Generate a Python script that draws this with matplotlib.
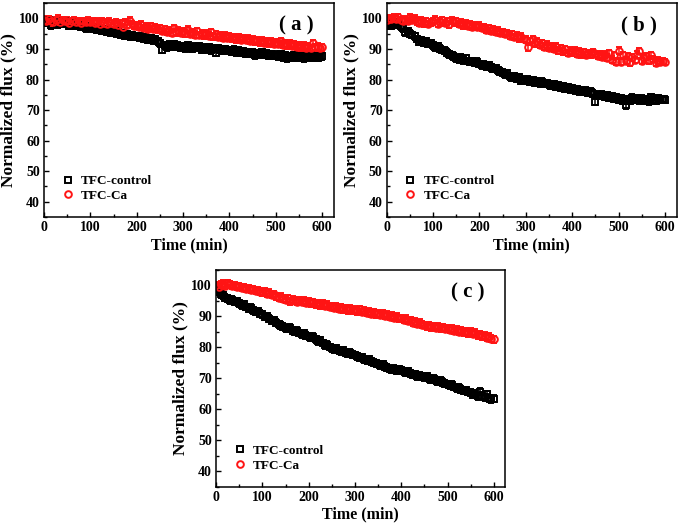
import matplotlib.pyplot as plt
from matplotlib.ticker import MultipleLocator
from matplotlib.lines import Line2D

plt.rcParams['font.family'] = ['Liberation Serif', 'DejaVu Serif']
plt.rcParams['font.weight'] = 'bold'

# sampling every 5 min, 0..600
time_min = list(range(0, 601, 5))

a_control = [
    99.2, 98.6, 99.5, 97.8, 98.9, 99.3, 98.1, 99.0, 98.4, 99.1,
    98.2, 97.5, 98.7, 98.0, 97.6, 98.3, 97.2, 97.9, 96.8, 97.4,
    97.0, 96.5, 97.2, 96.3, 96.8, 95.9, 96.4, 95.6, 96.1, 95.3,
    95.5, 95.1, 95.8, 94.7, 95.2, 94.4, 94.9, 94.1, 94.6, 94.0,
    94.2, 93.8, 94.0, 93.4, 93.7, 93.1, 93.5, 92.8, 93.2, 92.5,
    91.8, 89.8, 91.2, 90.6, 91.4, 90.9, 91.5, 90.7, 91.1, 90.4,
    90.9, 90.2, 91.3, 90.5, 90.0, 90.7, 90.3, 91.0, 89.8, 90.4,
    89.9, 90.5, 89.6, 90.1, 88.8, 90.3, 89.7, 89.4, 90.0, 89.3,
    89.6, 89.1, 89.8, 88.9, 89.4, 88.7, 89.2, 88.5, 89.0, 88.4,
    88.8, 87.9, 88.6, 88.2, 88.9, 88.0, 88.5, 87.8, 88.3, 87.7,
    88.1, 87.6, 88.4, 87.3, 87.9, 87.0, 87.6, 87.2, 88.0, 87.1,
    87.5, 87.8, 87.0, 87.6, 87.3, 87.9, 87.1, 87.7, 87.2, 87.4,
    87.6]
a_ca = [
    99.6, 99.1, 99.8, 99.3, 98.7, 99.5, 99.9, 98.8, 99.4, 99.0,
    99.3, 98.6, 99.1, 99.5, 98.9, 99.2, 98.5, 99.0, 98.7, 99.3,
    98.8, 99.2, 98.5, 98.9, 98.3, 99.0, 98.6, 98.2, 98.9, 98.4,
    98.1, 98.7, 97.9, 98.4, 97.2, 98.8, 98.0, 99.3, 98.2, 97.6,
    97.8, 97.3, 98.0, 96.9, 97.5, 96.7, 97.4, 96.5, 97.1, 96.4,
    96.8, 95.9, 96.5, 95.6, 96.2, 95.3, 96.9, 95.5, 96.0, 95.2,
    95.8, 95.1, 96.3, 94.9, 95.5, 94.7, 95.9, 94.6, 95.2, 94.5,
    95.0, 94.3, 95.4, 94.1, 94.8, 93.9, 94.5, 93.7, 94.3, 93.6,
    94.1, 93.5, 93.9, 93.2, 93.8, 93.0, 93.6, 92.9, 93.4, 92.7,
    93.1, 92.5, 92.9, 92.2, 92.7, 92.0, 92.6, 91.8, 92.4, 91.7,
    92.2, 91.6, 92.5, 91.4, 91.9, 91.2, 91.7, 91.0, 91.5, 90.8,
    91.3, 90.6, 91.1, 90.4, 90.9, 90.3, 92.0, 90.5, 90.7, 90.2,
    90.6]

b_control = [
    97.8, 98.3, 97.5, 98.6, 97.9, 98.2, 97.4, 96.8, 95.4, 95.9,
    95.0, 94.6, 94.2, 93.3, 92.4, 92.9, 92.0, 92.6, 91.6, 91.9,
    91.2, 90.5, 90.9, 90.1, 89.7, 89.4, 88.8, 88.3, 87.9, 87.5,
    87.0, 86.6, 87.2, 86.3, 86.9, 86.1, 85.7, 86.0, 85.4, 85.8,
    85.1, 84.6, 84.9, 84.3, 84.7, 84.0, 83.5, 83.8, 83.0, 82.6,
    82.2, 81.7, 82.0, 81.1, 80.6, 81.0, 80.2, 80.7, 79.6, 80.0,
    79.5, 79.9, 79.2, 79.7, 79.0, 79.4, 78.8, 79.3, 78.6, 78.9,
    78.4, 78.0, 78.5, 77.6, 78.1, 77.3, 77.8, 77.0, 77.5, 76.8,
    77.2, 76.5, 76.9, 76.2, 76.6, 75.9, 76.3, 75.6, 76.0, 75.4,
    72.8, 75.1, 74.6, 75.0, 74.3, 74.8, 74.0, 74.5, 73.7, 74.2,
    73.4, 73.9, 73.1, 71.6, 73.6, 73.0, 74.1, 73.3, 73.8, 73.2,
    73.7, 73.1, 73.5, 72.9, 74.2, 73.4, 73.0, 73.8, 73.3, 73.6,
    73.4]
b_ca = [
    99.4, 100.1, 99.7, 100.3, 99.9, 100.4, 99.5, 99.0, 99.6, 99.2,
    100.2, 99.5, 99.9, 99.1, 98.6, 99.3, 98.4, 99.0, 98.2, 98.7,
    99.1, 99.6, 98.3, 98.9, 99.4, 98.5, 99.0, 98.1, 99.3, 98.7,
    99.0, 98.2, 98.6, 97.8, 98.3, 97.5, 98.0, 97.2, 97.7, 97.3,
    97.6, 96.9, 97.2, 96.3, 96.8, 95.9, 96.4, 95.7, 96.0, 95.3,
    95.6, 94.9, 95.2, 94.3, 94.8, 93.9, 94.4, 93.5, 94.0, 93.3,
    93.0, 90.6, 92.5, 93.2, 91.8, 92.4, 91.3, 91.9, 90.8, 91.4,
    90.4, 91.0, 90.1, 90.7, 89.6, 90.3, 89.2, 89.9, 88.7, 89.5,
    88.9, 89.4, 88.5, 89.1, 88.3, 88.9, 88.0, 88.6, 88.2, 89.0,
    88.4, 87.8, 88.3, 87.5, 88.1, 87.2, 88.6, 86.5, 87.9, 85.8,
    89.4, 85.9, 88.0, 86.2, 87.7, 85.6, 87.3, 86.4, 88.1, 89.3,
    86.1, 87.0, 87.6, 86.3, 87.9, 86.7, 85.5, 86.2, 85.7, 86.0,
    85.7]

c_control = [
    98.4, 97.9, 97.1, 96.8, 96.0, 95.7, 95.1, 95.4, 94.6, 94.9,
    94.2, 93.6, 93.9, 93.0, 92.5, 92.8, 91.9, 91.4, 91.7, 90.9,
    90.6, 89.8, 90.1, 89.2, 88.5, 88.8, 87.9, 87.4, 87.0, 86.6,
    86.2, 85.9, 86.3, 85.4, 85.0, 85.3, 84.6, 84.2, 84.5, 83.8,
    83.5, 83.1, 83.4, 82.6, 81.9, 82.2, 81.4, 80.6, 80.9, 80.1,
    79.7, 79.3, 79.8, 79.0, 78.7, 79.1, 78.3, 77.9, 78.2, 77.6,
    77.5, 77.1, 76.6, 76.9, 76.1, 75.8, 76.2, 75.5, 75.1, 74.9,
    74.6, 74.2, 74.5, 73.8, 73.4, 73.0, 72.7, 73.1, 72.5, 72.9,
    72.6, 72.2, 71.8, 72.3, 71.5, 71.1, 71.4, 70.7, 70.9, 70.5,
    70.3, 70.6, 70.0, 69.6, 69.9, 69.3, 68.9, 69.2, 68.6, 68.3,
    68.1, 67.7, 68.0, 67.2, 66.8, 67.0, 66.3, 65.9, 66.2, 65.6,
    65.4, 64.6, 65.0, 64.2, 65.7, 64.4, 63.9, 64.8, 63.6, 63.2,
    63.4]
c_ca = [
    100.0, 99.6, 100.2, 100.5, 99.8, 100.7, 100.3, 99.9, 100.1, 99.5,
    99.7, 99.2, 99.4, 98.8, 99.0, 98.5, 98.7, 98.2, 98.4, 97.9,
    97.8, 98.1, 97.3, 97.6, 96.9, 97.2, 96.5, 96.0, 96.3, 95.7,
    95.3, 95.8, 94.9, 95.4, 95.0, 94.6, 95.2, 94.7, 95.0, 94.4,
    94.8, 94.2, 94.5, 93.9, 94.3, 93.6, 94.0, 93.3, 93.7, 93.1,
    93.2, 92.8, 93.1, 92.5, 92.9, 92.2, 92.6, 92.0, 92.4, 91.9,
    92.1, 91.6, 92.3, 91.4, 91.8, 91.1, 91.5, 90.9, 91.3, 90.7,
    91.0, 90.4, 90.8, 90.1, 90.5, 89.8, 90.2, 89.6, 89.9, 89.3,
    89.4, 88.9, 89.2, 88.5, 88.8, 88.0, 88.3, 87.6, 87.9, 87.3,
    87.2, 86.8, 87.1, 86.5, 86.9, 86.3, 86.7, 86.1, 86.5, 85.9,
    86.1, 85.6, 86.0, 85.3, 85.7, 85.0, 85.4, 84.8, 85.2, 84.5,
    85.0, 84.3, 84.7, 83.9, 84.2, 83.5, 83.8, 83.1, 83.4, 82.8,
    82.6]

panel_labels = ['( a )', '( b )', '( c )']
err_control = 1.1
err_ca = 1.1
red = '#ff1414'

fig = plt.figure(figsize=(6.82, 5.28), dpi=100)
ax_a = fig.add_axes([0.0645, 0.589, 0.425, 0.405])
ax_b = fig.add_axes([0.567, 0.589, 0.425, 0.405])
ax_c = fig.add_axes([0.317, 0.078, 0.424, 0.411])

panels = [(ax_a, a_control, a_ca), (ax_b, b_control, b_ca), (ax_c, c_control, c_ca)]

for i, (ax, ctrl, ca) in enumerate(panels):
    ax.errorbar(time_min, ctrl, yerr=err_control, fmt='s', color='black',
                mfc='none', mec='black', ms=4.6, mew=1.4, elinewidth=1.1,
                capsize=2, capthick=1.1)
    ax.errorbar(time_min, ca, yerr=err_ca, fmt='o', color=red,
                mfc='none', mec=red, ms=4.8, mew=1.4, elinewidth=1.1,
                capsize=2, capthick=1.1)
    ax.set_xlim(0, 625)
    ax.set_ylim(35, 105)
    ax.xaxis.set_major_locator(MultipleLocator(100))
    ax.xaxis.set_minor_locator(MultipleLocator(50))
    ax.yaxis.set_minor_locator(MultipleLocator(5))
    ax.set_yticks([40, 50, 60, 70, 80, 90, 100])
    ax.tick_params(which='both', direction='in', top=False, right=False, labelsize=10, width=1)
    ax.tick_params(which='major', length=3.5, pad=3)
    ax.tick_params(which='minor', length=2)
    for s in ax.spines.values():
        s.set_linewidth(1.1)
    ax.set_xlabel('Time (min)', fontsize=11.5, fontweight='bold', labelpad=2)
    ax.set_ylabel('Normalized flux (%)', fontsize=12.5, fontweight='bold', labelpad=2)
    ax.text(0.87, 0.895, panel_labels[i], transform=ax.transAxes, fontsize=15,
            fontweight='bold', ha='center', va='center')
    handles = [
        Line2D([], [], ls='none', marker='s', ms=4.6, mfc='none', mec='black', mew=1.4),
        Line2D([], [], ls='none', marker='o', ms=4.8, mfc='none', mec=red, mew=1.4),
    ]
    ax.legend(handles, ['TFC-control', 'TFC-Ca'], loc='lower left',
              bbox_to_anchor=(0.05, 0.045), frameon=False, fontsize=9.5,
              handletextpad=0.7, labelspacing=0.2, handlelength=0.6,
              borderaxespad=0)

fig.savefig('out.png', dpi=100)
